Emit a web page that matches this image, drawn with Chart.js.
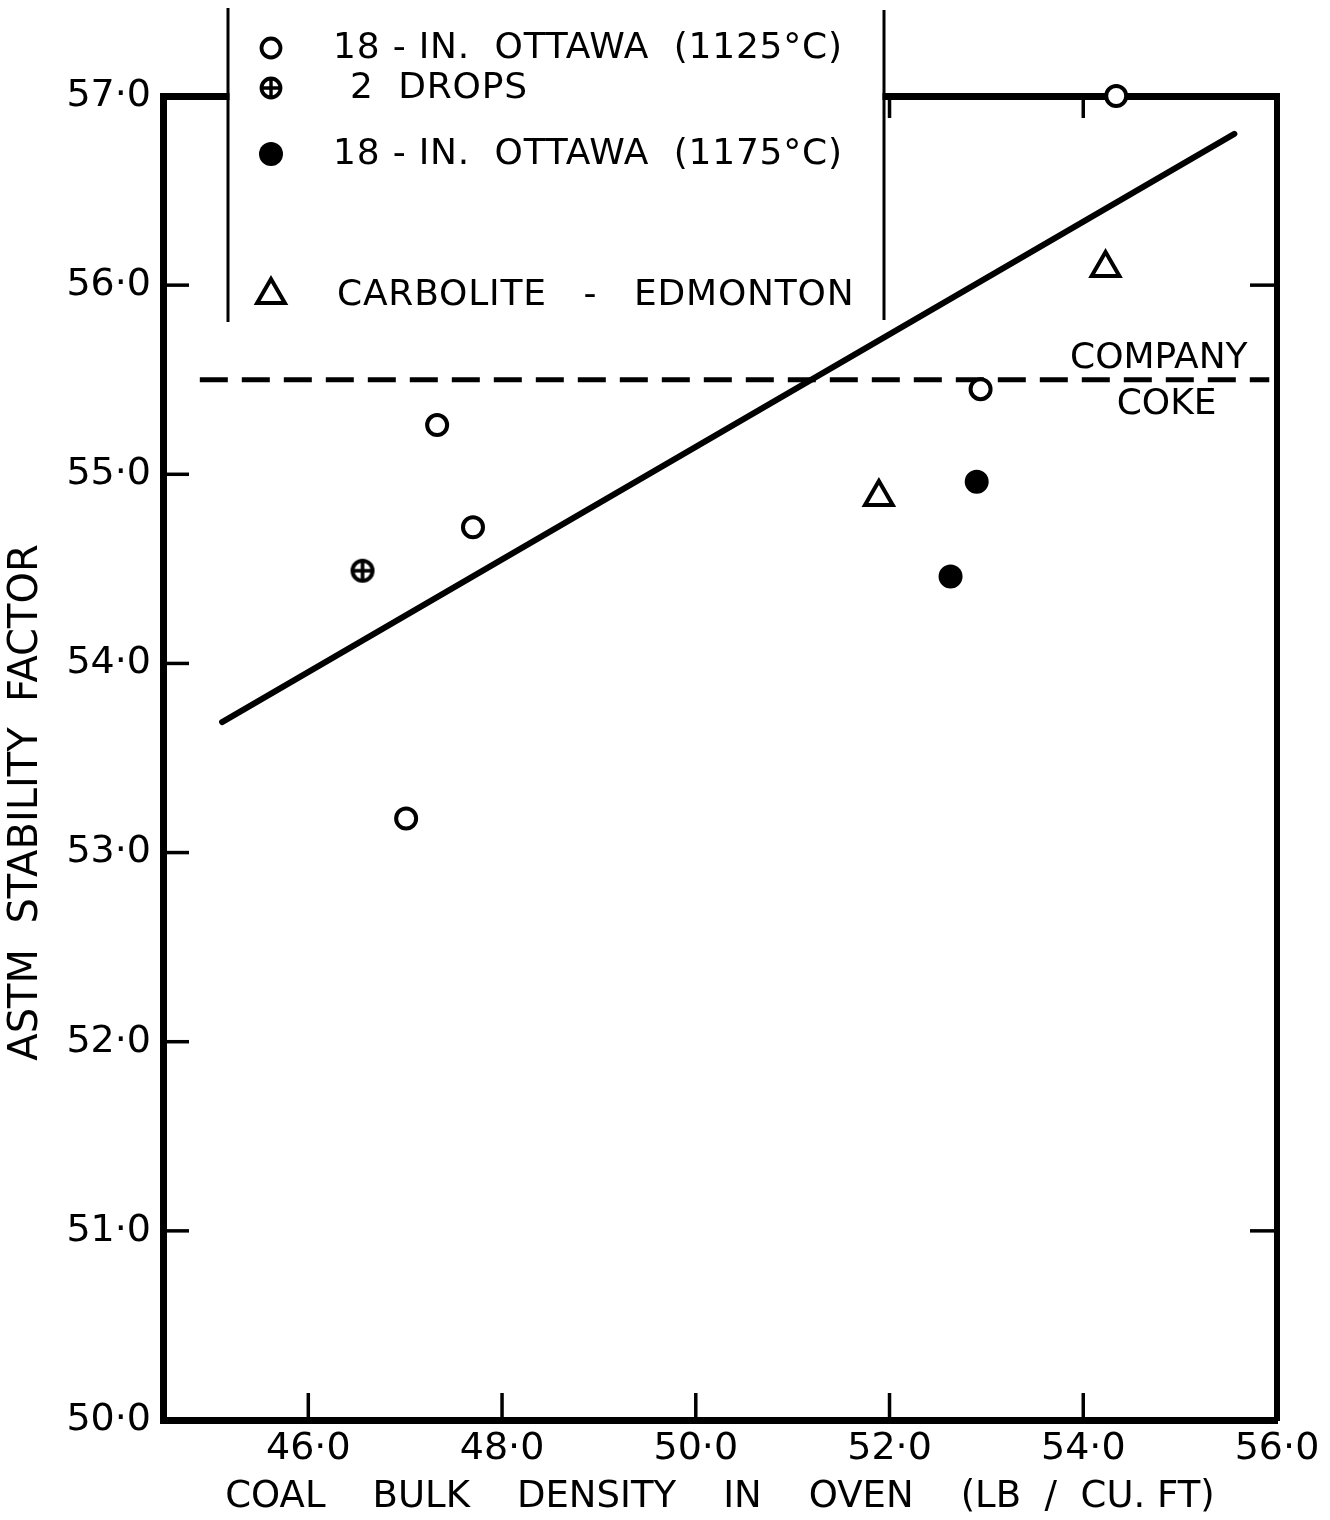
<!DOCTYPE html>
<html><head><meta charset="utf-8">
<script src="https://cdn.jsdelivr.net/npm/chart.js@4.4.1/dist/chart.umd.min.js"></script>
<style>html,body{margin:0;padding:0;background:#fff;} #wrap{width:1330px;height:1520px;}</style>
</head><body><div id="wrap"><canvas id="c" width="1330" height="1520"></canvas></div>
<script>
// ---- axes ----
const xMin = 44.5, xMax = 56.0;
const yMin = 50.0, yMax = 57.0;
const xTicks = [46, 48, 50, 52, 54, 56];
const xTickLabels = ['46·0', '48·0', '50·0', '52·0', '54·0', '56·0'];
const yTicks = [50, 51, 52, 53, 54, 55, 56, 57];
const yTickLabels = ['50·0', '51·0', '52·0', '53·0', '54·0', '55·0', '56·0', '57·0'];
const rightTicks = [51, 56];
const xTitle = 'COAL    BULK    DENSITY    IN    OVEN    (LB  /  CU. FT)';
const yTitle = 'ASTM  STABILITY  FACTOR       ';

// ---- series ----
const ottawa1125Label = '18 - IN.  OTTAWA  (1125°C)';
const ottawa1125X = [47.01, 47.33, 47.70, 52.94, 54.34];
const ottawa1125Y = [53.18, 55.26, 54.72, 55.45, 57.0];

const dropsLabel = '2  DROPS';
const dropsX = [46.56];
const dropsY = [54.49];

const ottawa1175Label = '18 - IN.  OTTAWA  (1175°C)';
const ottawa1175X = [52.63, 52.90];
const ottawa1175Y = [54.46, 54.96];

const carboliteLabel = 'CARBOLITE   -   EDMONTON';
const carboliteX = [51.89, 54.23];
const carboliteY = [54.88, 56.09];

const fitX = [45.11, 55.56];
const fitY = [53.69, 56.80];

const companyX = [44.88, 55.92];
const companyY = [55.5, 55.5];

const noteText = ['COMPANY', 'COKE'];
const noteX = [54.78, 54.86];
const noteY = [55.61, 55.37];

function pts(xs, ys) { return xs.map((x, i) => ({ x: x, y: ys[i] })); }

const FONT = "'DejaVu Sans', 'Liberation Sans', sans-serif";
Chart.defaults.font.family = FONT;
Chart.defaults.color = '#000';

function drawCrossCircle(c, x, y, r, lw) {
  c.save();
  c.beginPath(); c.arc(x, y, r, 0, Math.PI * 2);
  c.fillStyle = '#fff'; c.fill();
  c.lineWidth = lw; c.strokeStyle = '#000'; c.stroke();
  c.beginPath();
  c.moveTo(x - r, y); c.lineTo(x + r, y);
  c.moveTo(x, y - r); c.lineTo(x, y + r);
  c.lineWidth = lw * 0.9; c.stroke();
  c.restore();
}
const crossImg = document.createElement('canvas');
crossImg.width = 28; crossImg.height = 28;
drawCrossCircle(crossImg.getContext('2d'), 14, 14, 10, 4);

// inward tick marks, positioned from the library's scales
const tickPlugin = {
  id: 'inwardTicks',
  beforeDatasetsDraw(chart) {
    const c = chart.ctx, a = chart.chartArea, s = chart.scales;
    c.save();
    c.strokeStyle = '#000'; c.lineWidth = 3.5; c.lineCap = 'butt';
    const line = (x1, y1, x2, y2) => { c.beginPath(); c.moveTo(x1, y1); c.lineTo(x2, y2); c.stroke(); };
    s.y.ticks.forEach(t => { const p = s.y.getPixelForValue(t.value); line(a.left, p, a.left + 26, p); });
    s.x.ticks.forEach(t => { const p = s.x.getPixelForValue(t.value); line(p, a.bottom, p, a.bottom - 27); });
    s.x2.ticks.forEach(t => { const p = s.x2.getPixelForValue(t.value); line(p, a.top, p, a.top + 22); });
    s.y2.ticks.forEach(t => { const p = s.y2.getPixelForValue(t.value); line(a.right, p, a.right - 27, p); });
    c.restore();
  }
};

// "COMPANY / COKE" annotation at data coordinates
const notePlugin = {
  id: 'notes',
  afterDatasetsDraw(chart) {
    const c = chart.ctx, s = chart.scales;
    c.save();
    c.fillStyle = '#000'; c.font = '36px ' + FONT;
    c.textAlign = 'center'; c.textBaseline = 'middle';
    noteText.forEach((t, i) => c.fillText(t, s.x.getPixelForValue(noteX[i]), s.y.getPixelForValue(noteY[i])));
    c.restore();
  }
};

// legend box in the upper-left
const legendPlugin = {
  id: 'boxLegend',
  afterDraw(chart) {
    const c = chart.ctx;
    const ds = chart.data.datasets;
    c.save();
    c.fillStyle = '#fff';
    c.fillRect(229.5, 0, 653, 322);
    c.strokeStyle = '#000'; c.lineWidth = 3;
    c.beginPath(); c.moveTo(228, 8); c.lineTo(228, 322); c.stroke();
    c.beginPath(); c.moveTo(884, 10); c.lineTo(884, 320); c.stroke();
    const rows = [
      { d: 0, y: 48, tx: 333 },
      { d: 1, y: 88, tx: 350 },
      { d: 2, y: 154, tx: 333 },
      { d: 3, y: 295, tx: 337 }
    ];
    const sx = 271;
    rows.forEach(r => {
      const d = ds[r.d];
      if (r.d === 0) {
        c.beginPath(); c.arc(sx, r.y, 9.5, 0, Math.PI * 2);
        c.fillStyle = '#fff'; c.fill(); c.lineWidth = 3.8; c.strokeStyle = '#000'; c.stroke();
      } else if (r.d === 1) {
        drawCrossCircle(c, sx, r.y, 9.5, 3.8);
      } else if (r.d === 2) {
        c.beginPath(); c.arc(sx, r.y, 12, 0, Math.PI * 2);
        c.fillStyle = '#000'; c.fill();
      } else {
        const rr = 16;
        c.beginPath();
        c.moveTo(sx, r.y - rr);
        c.lineTo(sx + rr * 0.866, r.y + rr * 0.5);
        c.lineTo(sx - rr * 0.866, r.y + rr * 0.5);
        c.closePath();
        c.fillStyle = '#fff'; c.fill(); c.lineWidth = 4; c.lineJoin = 'miter'; c.strokeStyle = '#000'; c.stroke();
      }
      c.fillStyle = '#000';
      c.font = '36px ' + FONT;
      c.letterSpacing = '0.8px';
      c.textAlign = 'left'; c.textBaseline = 'middle';
      c.fillText(d.label, r.tx, r.y + 1);
    });
    c.restore();
  }
};

const fixW = w => s => { s.width = w; };
const fixH = h => s => { s.height = h; };
const noGrid = { display: false, drawTicks: false };

new Chart(document.getElementById('c'), {
  type: 'scatter',
  data: {
    datasets: [
      { label: ottawa1125Label, data: pts(ottawa1125X, ottawa1125Y), pointStyle: 'circle', pointRadius: 10, borderWidth: 4, borderColor: '#000', backgroundColor: '#fff', clip: false, order: 0 },
      { label: dropsLabel, data: pts(dropsX, dropsY), pointStyle: crossImg, pointRadius: 12, borderColor: '#000', backgroundColor: '#000', clip: false, order: 0 },
      { label: ottawa1175Label, data: pts(ottawa1175X, ottawa1175Y), pointStyle: 'circle', pointRadius: 11, borderWidth: 2, borderColor: '#000', backgroundColor: '#000', clip: false, order: 0 },
      { label: carboliteLabel, data: pts(carboliteX, carboliteY), pointStyle: 'triangle', pointRadius: 16, borderWidth: 4, borderColor: '#000', backgroundColor: '#fff', clip: false, order: 0 },
      { type: 'line', label: 'fit', data: pts(fitX, fitY), borderColor: '#000', borderWidth: 6, pointRadius: 0, fill: false, clip: false, order: 10, borderCapStyle: 'round' },
      { type: 'line', label: 'company coke', data: pts(companyX, companyY), borderColor: '#000', borderWidth: 5, borderDash: [28, 14], pointRadius: 0, fill: false, clip: false, order: 10 }
    ]
  },
  options: {
    responsive: false,
    animation: false,
    devicePixelRatio: 1,
    layout: { padding: 0 },
    events: [],
    plugins: { legend: { display: false }, tooltip: { enabled: false } },
    scales: {
      x: {
        type: 'linear', position: 'bottom', min: xMin, max: xMax,
        afterBuildTicks: s => { s.ticks = xTicks.map(v => ({ value: v })); },
        afterFit: fixH(100),
        grid: noGrid,
        border: { display: true, width: 7, color: '#000' },
        ticks: { padding: 6, color: '#000', font: { size: 38 }, maxRotation: 0, autoSkip: false, callback: (v, i) => xTickLabels[i] },
        title: { display: true, text: xTitle, color: '#000', font: { size: 37 }, padding: { top: 0, bottom: 0 } }
      },
      y: {
        type: 'linear', position: 'left', min: yMin, max: yMax,
        afterBuildTicks: s => { s.ticks = yTicks.map(v => ({ value: v })); },
        afterFit: fixW(163),
        grid: noGrid,
        border: { display: true, width: 7, color: '#000' },
        ticks: { padding: 12, color: '#000', font: { size: 38 }, autoSkip: false, callback: (v, i) => yTickLabels[i] },
        title: { display: true, text: yTitle, color: '#000', font: { size: 40 }, padding: { top: 3, bottom: 0 } }
      },
      x2: {
        type: 'linear', position: 'top', min: xMin, max: xMax,
        afterBuildTicks: s => { s.ticks = xTicks.map(v => ({ value: v })); },
        afterFit: fixH(96),
        grid: noGrid,
        border: { display: true, width: 7, color: '#000' },
        ticks: { display: false }
      },
      y2: {
        type: 'linear', position: 'right', min: yMin, max: yMax,
        afterBuildTicks: s => { s.ticks = rightTicks.map(v => ({ value: v })); },
        afterFit: fixW(53),
        grid: noGrid,
        border: { display: true, width: 6, color: '#000' },
        ticks: { display: false }
      }
    }
  },
  plugins: [tickPlugin, notePlugin, legendPlugin]
});
</script></body></html>
